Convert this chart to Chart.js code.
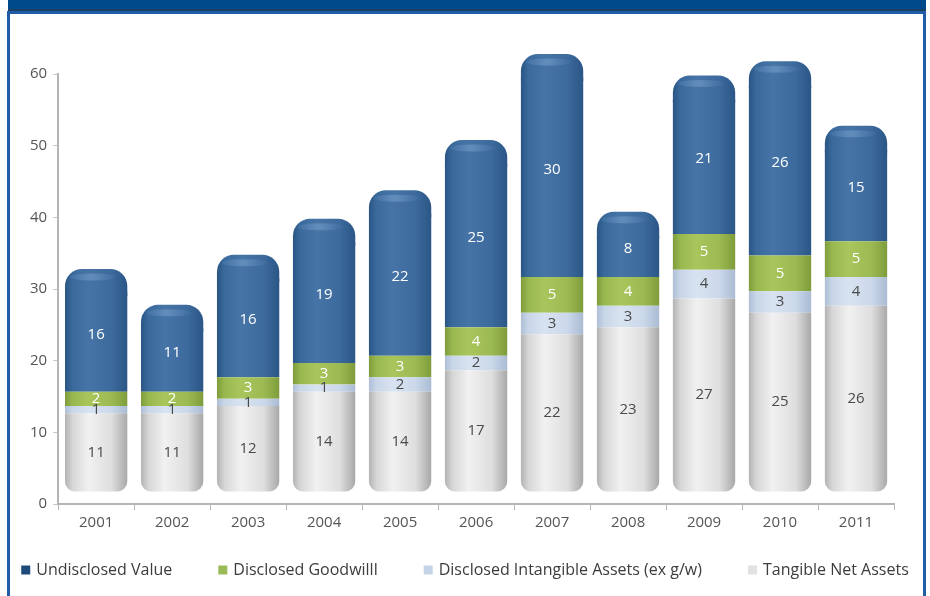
<!DOCTYPE html>
<html>
<head>
<meta charset="utf-8">
<script src="https://cdn.jsdelivr.net/npm/chart.js@4.4.1/dist/chart.umd.min.js"></script>
<style>
  html, body { margin: 0; padding: 0; background: #ffffff; }
  #wrap { width: 930px; height: 596px; position: relative; }
  canvas { display: block; }
</style>
</head>
<body>
<div id="wrap"><canvas id="c" width="930" height="596"></canvas></div>
<script>
// Years on the category axis
const years = ['2001', '2002', '2003', '2004', '2005', '2006', '2007', '2008', '2009', '2010', '2011'];

// Stacked components (bottom to top)
const tangibleNetAssets   = [11, 11, 12, 14, 14, 17, 22, 23, 27, 25, 26];
const intangibleAssets    = [1, 1, 1, 1, 2, 2, 3, 3, 4, 3, 4];
const disclosedGoodwill   = [2, 2, 3, 3, 3, 4, 5, 4, 5, 5, 5];
const undisclosedValue    = [16, 11, 16, 19, 22, 25, 30, 8, 21, 26, 15];

// Value axis ticks
const yTicks = [0, 10, 20, 30, 40, 50, 60];

const FONT = '"Open Sans", Lato, "DejaVu Sans", sans-serif';
const BAR_FRACTION = 0.82;
const LIFT = 12;   // cylinders sit slightly above the floor line
const CAP = 8;     // height of the rounded lid on top of each cylinder
const LID_R = 17;  // corner radius of the lid

const palette = {
  blue:  ['#2a5584', '#3a6a9c', '#4674a6', '#3c6a9c', '#2b5687'],
  green: ['#7f9c3c', '#98b84f', '#a9c65c', '#9cba52', '#7f9c3c'],
  lblue: ['#aebfd6', '#c8d6e8', '#d8e3f1', '#cbd8ea', '#a9bbd3'],
  grey:  ['#b3b3b3', '#d6d6d6', '#f1f1f1', '#dedede', '#a8a8a8']
};

const legendColors = {
  'Undisclosed Value': '#1f4a7a',
  'Disclosed Goodwilll': '#9bbb59',
  'Disclosed Intangible Assets (ex g/w)': '#c5d4e8',
  'Tangible Net Assets': '#e2e2e2'
};

// Horizontal gradient across one bar, centred on its category
function shade(chart, index, stops) {
  const xs = chart.scales.x;
  const cx = xs.getPixelForValue(index);
  const w = xs.width / years.length * BAR_FRACTION;
  const g = chart.ctx.createLinearGradient(cx - w / 2, 0, cx + w / 2, 0);
  g.addColorStop(0.00, stops[0]);
  g.addColorStop(0.12, stops[1]);
  g.addColorStop(0.38, stops[2]);
  g.addColorStop(0.75, stops[3]);
  g.addColorStop(1.00, stops[4]);
  return g;
}

function cylinder(stops) {
  return function (ctx) {
    if (!ctx.chart.chartArea) return stops[2];
    return shade(ctx.chart, ctx.dataIndex, stops);
  };
}

// Frame: dark header strip and blue border around the panel
const framePlugin = {
  id: 'frame',
  beforeDraw(chart) {
    const c = chart.ctx;
    c.save();
    c.fillStyle = '#ffffff';
    c.fillRect(0, 0, chart.width, chart.height);
    c.fillStyle = '#004a8c';
    c.fillRect(8, 0, 918, 10);
    c.fillStyle = '#1c3f66';
    c.fillRect(8, 9, 918, 2);
    c.strokeStyle = '#1f5ea6';
    c.lineWidth = 3;
    c.strokeRect(8.5, 12.5, 916, 600);
    c.restore();
  }
};

// Raise bars above the floor, add the lids and segment values
const liftPlugin = {
  id: 'lift',
  beforeDatasetsDraw(chart) {
    chart.ctx.save();
    chart.ctx.translate(0, -LIFT);
  },
  afterDatasetsDraw(chart) {
    const c = chart.ctx;
    const top = chart.getDatasetMeta(3);
    top.data.forEach((bar, i) => {
      const w = bar.width;
      const x0 = bar.x - w / 2;
      const lidBottom = Math.min(bar.base, bar.y + LID_R + 2);
      c.save();
      c.fillStyle = shade(chart, i, palette.blue);
      c.beginPath();
      c.roundRect(x0, bar.y - CAP, w, lidBottom - bar.y + CAP, [LID_R, LID_R, 0, 0]);
      c.fill();
      const hy = bar.y - CAP + 8;
      const g = c.createRadialGradient(bar.x - w * 0.08, hy, 1, bar.x - w * 0.08, hy, w * 0.42);
      g.addColorStop(0, 'rgba(125,165,210,0.5)');
      g.addColorStop(1, 'rgba(125,165,210,0)');
      c.fillStyle = g;
      c.beginPath();
      c.ellipse(bar.x - w * 0.05, hy, w * 0.38, 3.5, 0, 0, Math.PI * 2);
      c.fill();
      c.restore();
    });
    chart.data.datasets.forEach((ds, di) => {
      const meta = chart.getDatasetMeta(di);
      meta.data.forEach((bar, i) => {
        const cy = (bar.y + bar.base) / 2;
        c.save();
        c.font = '15px ' + FONT;
        c.textAlign = 'center';
        c.textBaseline = 'middle';
        c.fillStyle = ds.labelColor;
        c.fillText(String(ds.data[i]), bar.x, cy);
        c.restore();
      });
    });
    c.restore();
  }
};

// Single-row legend along the bottom of the panel (top series first)
const rowLegendPlugin = {
  id: 'rowLegend',
  afterDraw(chart) {
    const c = chart.ctx;
    const items = chart.data.datasets.map(ds => ds.label).reverse();
    const box = 9, gapText = 6, gapItem = 46, y = 570;
    c.save();
    c.font = '16px ' + FONT;
    c.textBaseline = 'middle';
    const widths = items.map(t => c.measureText(t).width);
    const total = widths.reduce((a, w) => a + w + box + gapText, 0) + gapItem * (items.length - 1);
    let x = chart.width / 2 - total / 2;
    items.forEach((t, i) => {
      c.fillStyle = legendColors[t];
      c.fillRect(x, y - box / 2, box, box);
      x += box + gapText;
      c.fillStyle = '#3c3c3c';
      c.fillText(t, x, y);
      x += widths[i] + gapItem;
    });
    c.restore();
  }
};

const datasets = [
  { label: 'Tangible Net Assets', data: tangibleNetAssets, backgroundColor: cylinder(palette.grey),
    labelColor: '#4a4a4a', borderRadius: { bottomLeft: 10, bottomRight: 10 }, borderSkipped: false },
  { label: 'Disclosed Intangible Assets (ex g/w)', data: intangibleAssets, backgroundColor: cylinder(palette.lblue),
    labelColor: '#4a4a4a' },
  { label: 'Disclosed Goodwilll', data: disclosedGoodwill, backgroundColor: cylinder(palette.green),
    labelColor: '#ffffff' },
  { label: 'Undisclosed Value', data: undisclosedValue, backgroundColor: cylinder(palette.blue),
    labelColor: '#ffffff', borderRadius: { topLeft: LID_R, topRight: LID_R }, borderSkipped: false }
];

new Chart(document.getElementById('c'), {
  type: 'bar',
  data: { labels: years, datasets: datasets },
  plugins: [framePlugin, liftPlugin, rowLegendPlugin],
  options: {
    responsive: false,
    animation: false,
    devicePixelRatio: 1,
    datasets: { bar: { barPercentage: BAR_FRACTION, categoryPercentage: 1, borderWidth: 0 } },
    layout: { padding: { left: 24, right: 36, top: 74, bottom: 60 } },
    scales: {
      x: {
        stacked: true,
        grid: { display: true, drawOnChartArea: false, drawTicks: true, tickLength: 6, color: '#b5b5b5', offset: true },
        border: { display: true, color: '#b5b5b5', width: 2 },
        ticks: { font: { family: FONT, size: 15 }, color: '#555555', padding: 4 }
      },
      y: {
        stacked: true,
        min: 0, max: 60,
        afterBuildTicks(scale) { scale.ticks = yTicks.map(v => ({ value: v })); },
        grid: { display: true, drawOnChartArea: false, drawTicks: true, tickLength: 5, color: '#c8c8c8' },
        border: { display: true, color: '#b5b5b5', width: 2 },
        ticks: { font: { family: FONT, size: 15 }, color: '#555555', padding: 6 }
      }
    },
    plugins: {
      legend: { display: false },
      tooltip: { enabled: false }
    }
  }
});
</script>
</body>
</html>
